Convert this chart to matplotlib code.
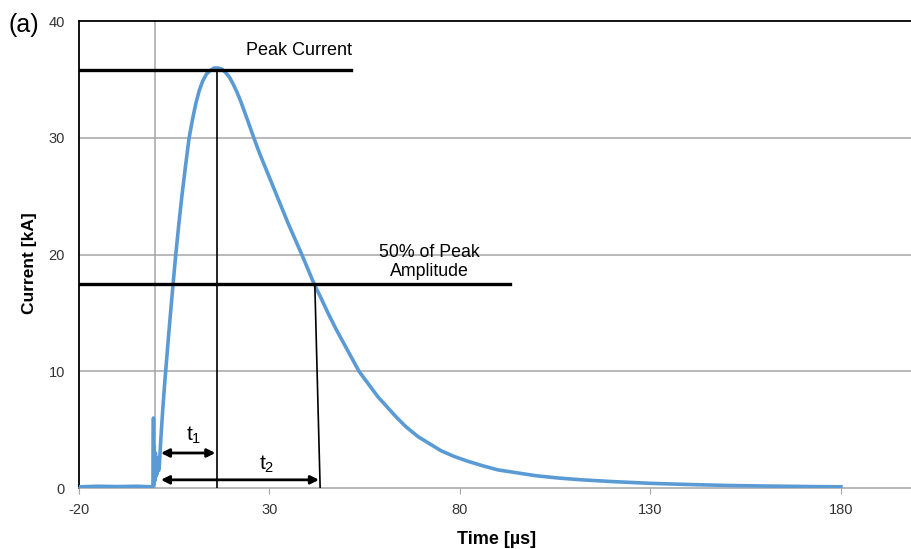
import numpy as np
import matplotlib.pyplot as plt

plt.rcParams['font.family'] = ['Liberation Sans', 'DejaVu Sans']
plt.rcParams['mathtext.default'] = 'regular'
plt.rcParams['axes.unicode_minus'] = False

# waveform (time in us, current in kA)
time_us = [-20, -15, -10, -5, -0.6, -0.45, -0.35, -0.25, -0.1, 0.05, 0.2, 0.35, 0.5, 0.7, 0.9,
           1.1, 1.5, 2.0, 2.5, 3.0, 3.5, 4.0, 4.7, 5.4, 6.2, 7.0, 8.0, 8.9, 9.8, 10.7,
           11.6, 12.5, 13.5, 14.5, 15.5, 16.5, 17.5, 18.5, 19.5, 20.5, 21.5, 22.5,
           23.5, 24.5, 25.9, 27.5, 29.0, 32.0, 35.0, 38.5, 41.7, 43.5, 45.5, 47.5,
           49.5, 51.5, 53.5, 56.0, 58.5, 61.0, 63.5, 66.0, 69.0, 72.0, 75.0, 78.5,
           82.0, 86.0, 90.0, 95.0, 100.0, 106.0, 112.0, 120.0, 130.0, 140.0, 150.0,
           160.0, 170.0, 180.0]
current_ka = [0.1, 0.15, 0.12, 0.15, 0.1, 6.0, 0.3, 3.6, 0.6, 3.0, 1.0, 2.6, 1.2, 2.2, 1.5,
              2.0, 4.3, 6.8, 9.0, 11.0, 13.0, 14.9, 17.5, 20.0, 22.6, 25.0, 27.7, 30.0, 31.6, 33.0,
              34.1, 34.9, 35.5, 35.8, 36.0, 36.0, 35.9, 35.6, 35.2, 34.6, 33.9, 33.1,
              32.2, 31.3, 30.0, 28.6, 27.4, 25.0, 22.6, 20.0, 17.5, 16.3, 14.9, 13.6,
              12.4, 11.2, 10.0, 8.9, 7.8, 6.9, 6.0, 5.2, 4.4, 3.8, 3.2, 2.7,
              2.3, 1.9, 1.55, 1.3, 1.05, 0.85, 0.7, 0.55, 0.4, 0.3, 0.22,
              0.17, 0.13, 0.1]

peak_ka = 35.8
half_ka = 17.5
t_start = 1.5
t_peak = 16.2
t_half = 41.9
t_half_base = 43.3
peak_line_end = 51.4
half_line_end = 93.1

x_ticks = [-20, 30, 80, 130, 180]
y_ticks = [0, 10, 20, 30, 40]

fig = plt.figure(figsize=(9.11, 5.49), dpi=100)
ax = fig.add_axes([79 / 911, 61 / 549, 832 / 911, 466.7 / 549])

ax.set_xlim(-20, 198.4)
ax.set_ylim(0, 40)

grid_col = '#a6a6a6'
for yv in y_ticks[1:-1]:
    ax.axhline(yv, color=grid_col, lw=1.1, zorder=1)
ax.axvline(0, color=grid_col, lw=1.1, zorder=1)

ax.plot(time_us, current_ka, color='#5b9bd5', lw=2.6, zorder=3)

# annotation lines
ax.plot([-20, peak_line_end], [peak_ka, peak_ka], color='black', lw=2.4, zorder=4)
ax.plot([-20, half_line_end], [half_ka, half_ka], color='black', lw=2.4, zorder=4)
ax.plot([t_peak, t_peak], [peak_ka, 0], color='black', lw=1.2, zorder=4)
ax.plot([t_half, t_half_base], [half_ka, 0], color='black', lw=1.2, zorder=4)

arrow = dict(arrowstyle='<|-|>', color='black', lw=2.0, mutation_scale=12,
             shrinkA=0, shrinkB=0)
ax.annotate('', xy=(t_start, 3.0), xytext=(t_peak - 0.4, 3.0), arrowprops=arrow, zorder=5)
ax.annotate('', xy=(t_start, 0.7), xytext=(t_half_base - 0.3, 0.7), arrowprops=arrow, zorder=5)
ax.text(10.0, 3.6, 't$_1$', fontsize=15, ha='center', va='bottom')
ax.text(29.3, 1.1, 't$_2$', fontsize=15, ha='center', va='bottom')

ax.text(37.7, 36.8, 'Peak Current', fontsize=13, ha='center', va='bottom')
ax.text(72.0, 17.8, '50% of Peak\nAmplitude', fontsize=12.8, ha='center', va='bottom',
        linespacing=1.2)

# axes styling
ax.spines['right'].set_visible(False)
ax.spines['left'].set_color('black')
ax.spines['top'].set_color('black')
ax.spines['left'].set_linewidth(1.3)
ax.spines['top'].set_linewidth(1.3)
ax.spines['bottom'].set_color(grid_col)
ax.spines['bottom'].set_linewidth(1.1)

ax.set_xticks(x_ticks)
ax.set_yticks(y_ticks)
ax.tick_params(axis='x', direction='out', length=4, color=grid_col, labelsize=10.5,
               labelcolor='#333333', pad=7)
ax.tick_params(axis='y', length=0, labelsize=10.5, labelcolor='#333333', pad=10)

ax.set_xlabel('Time [µs]', fontsize=13, fontweight='bold')
ax.set_ylabel('Current [kA]', fontsize=12.5, fontweight='bold')
ax.xaxis.set_label_coords((497 - 79) / 832, -(531 - 488) / 466.7)
ax.yaxis.set_label_coords(-(79 - 37) / 832, 0.482)

fig.text(8 / 911, 1 - 25 / 549, '(a)', fontsize=18, ha='left', va='center')

fig.savefig('out.png', dpi=100)
